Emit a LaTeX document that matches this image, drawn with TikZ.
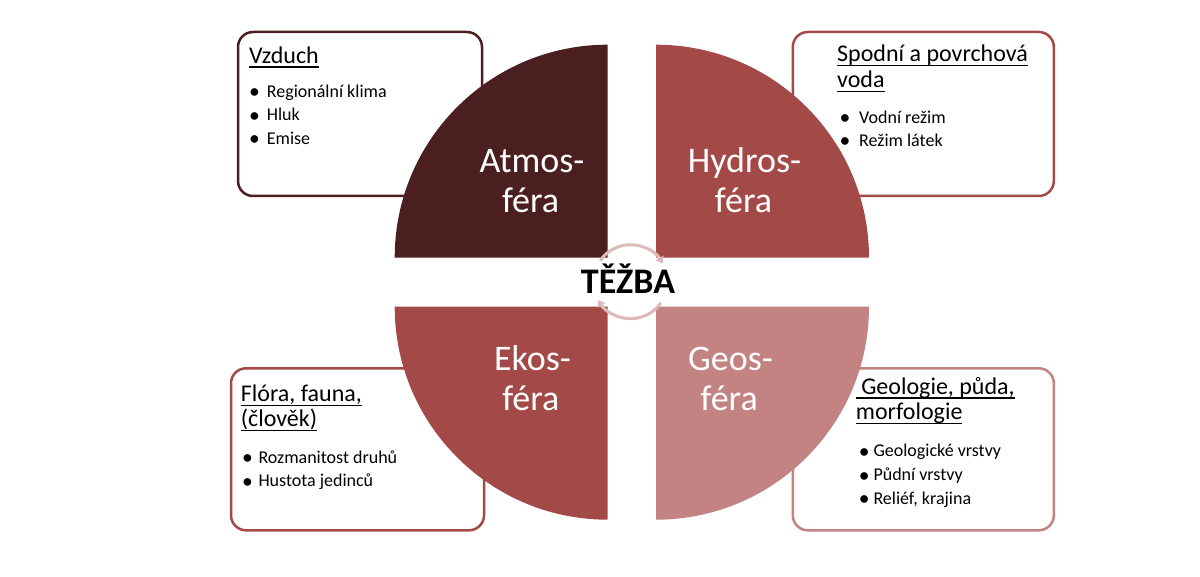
\documentclass[tikz,border=0pt]{standalone}
\usepackage{fontspec}
\usepackage{graphicx}
\setmainfont{Carlito}
\usetikzlibrary{arrows.meta,calc}
\definecolor{atm}{HTML}{4B1E1F}
\definecolor{hyd}{HTML}{A34A48}
\definecolor{geo}{HTML}{C38382}
\definecolor{cyc}{HTML}{DDB9B9}
\newcommand\myul[1]{\setbox0\hbox{#1}\rlap{\rule[-4.5pt]{\wd0}{1.5pt}}\box0}
\newcommand\mybul[1]{\makebox[#1][l]{\raisebox{-1.3pt}{\scalebox{1.2}{•}}}}
\begin{document}
\begin{tikzpicture}[x=1pt,y=1pt,
  infobox/.style={draw=#1,line width=2.5pt,rounded corners=15pt,fill=white,inner sep=0pt},
  head/.style={inner sep=0pt,anchor=base west,font=\fontsize{24}{26}\selectfont},
  bul/.style={inner sep=0pt,anchor=base west,font=\fontsize{18}{22}\selectfont},
  qlabel/.style={inner sep=0pt,anchor=base,text=white,font=\fontsize{36}{40}\selectfont},
  quad/.style={fill=#1,draw=none},
  cycarrow/.style={draw=cyc,line width=3pt,-{Triangle[length=6pt,width=9pt]}}]
\useasboundingbox (0,0) rectangle (1200,-577);
\fill[white] (0,0) rectangle (1200,-577);

% boxes
\node[infobox=atm,minimum width=244pt,minimum height=164pt] (bTL) at (360,-114) {};
\node[infobox=hyd,minimum width=261pt,minimum height=164pt] (bTR) at (923.3,-114) {};
\node[infobox=hyd,minimum width=253pt,minimum height=162pt] (bBL) at (357.5,-449.3) {};
\node[infobox=geo,minimum width=261pt,minimum height=162pt] (bBR) at (923.3,-449.3) {};

% quadrants
\coordinate (c1) at (607.7,-257.7);
\coordinate (c2) at (656,-257.7);
\coordinate (c3) at (607.7,-306.7);
\coordinate (c4) at (656,-306.7);
\fill[quad=atm] (c1) -- ++(-213,0) arc[start angle=180,end angle=90,radius=213pt] -- cycle;
\fill[quad=hyd] (c2) -- ++(213,0) arc[start angle=0,end angle=90,radius=213pt] -- cycle;
\fill[quad=hyd] (c3) -- ++(-213,0) arc[start angle=180,end angle=270,radius=213pt] -- cycle;
\fill[quad=geo] (c4) -- ++(213,0) arc[start angle=0,end angle=-90,radius=213pt] -- cycle;

% quadrant labels
\node[qlabel] (qa1) at (532,-172.7) {Atmos-};
\node[qlabel] (qa2) at (530.6,-212.7) {féra};
\node[qlabel] (qh1) at (744.5,-172.7) {Hydros-};
\node[qlabel] (qh2) at (743.5,-212.7) {féra};
\node[qlabel] (qe1) at (532.5,-370.7) {Ekos-};
\node[qlabel] (qe2) at (530.8,-410.5) {féra};
\node[qlabel] (qg1) at (730.5,-370.7) {Geos-};
\node[qlabel] (qg2) at (729.2,-410.5) {féra};

% centre cycle
\coordinate (cc) at (630.5,-281.7);
\coordinate (cyA) at ($(cc)+(145:37)$);
\coordinate (cyB) at ($(cc)+(-35:37)$);
\draw[cycarrow] (cyA) arc[start angle=145,end angle=30,radius=37pt];
\draw[cycarrow] (cyB) arc[start angle=-35,end angle=-150,radius=37pt];
\node[inner sep=0pt,anchor=base,font=\bfseries\fontsize{36}{40}\selectfont] (tezba) at (628,-293.3) {TĚŽBA};

% top-left text
\node[head] (hTL) at (249,-63.3) {\myul{Vzduch}};
\node[bul] (tl1) at (249,-97.5) {\mybul{17.7pt}Regionální klima};
\node[bul] (tl2) at (249,-121) {\mybul{17.7pt}Hluk};
\node[bul] (tl3) at (249,-144.5) {\mybul{17.7pt}Emise};

% top-right text
\node[head] (hTR1) at (837,-61.7) {\myul{Spodní a povrchová}};
\node[head] (hTR2) at (837,-87.7) {\myul{voda}};
\node[bul] (tr1) at (839.3,-123.3) {\mybul{19.7pt}Vodní režim};
\node[bul] (tr2) at (839.3,-146.7) {\mybul{19.7pt}Režim látek};

% bottom-left text
\node[head] (hBL1) at (240.7,-401.7) {\myul{Flóra, fauna,}};
\node[head] (hBL2) at (240.7,-426.7) {\myul{(člověk)}};
\node[bul] (bl1) at (242,-463.3) {\mybul{16.3pt}Rozmanitost druhů};
\node[bul] (bl2) at (242,-486.7) {\mybul{16.3pt}Hustota jedinců};

% bottom-right text
\node[head] (hBR1) at (855.7,-394.3) {\myul{\ Geologie, půda,}};
\node[head] (hBR2) at (855.7,-420) {\myul{morfologie}};
\node[bul] (br1) at (858.7,-456.7) {\mybul{14.6pt}Geologické vrstvy};
\node[bul] (br2) at (858.7,-480.7) {\mybul{14.6pt}Půdní vrstvy};
\node[bul] (br3) at (858.7,-504) {\mybul{14.6pt}Reliéf, krajina};
\end{tikzpicture}
\end{document}
